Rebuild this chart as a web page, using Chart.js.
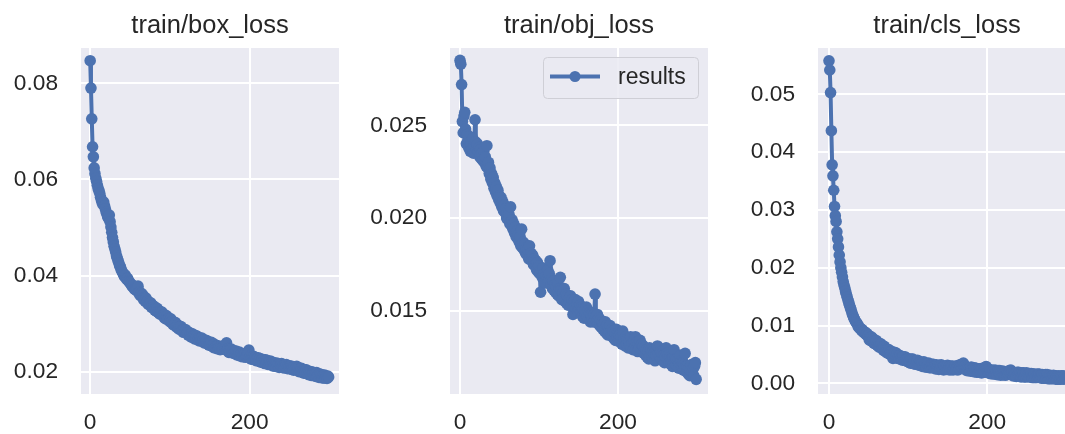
<!DOCTYPE html>
<html><head><meta charset="utf-8">
<script src="https://cdn.jsdelivr.net/npm/chart.js@4.4.1/dist/chart.umd.min.js"></script>
<style>
html,body{margin:0;padding:0;background:#ffffff;width:1065px;height:434px;overflow:hidden;position:relative}
canvas{position:absolute;top:0}
</style></head><body>
<canvas id="c1" width="350" height="434" style="left:0px;width:350px;height:434px"></canvas>
<canvas id="c2" width="370" height="434" style="left:350px;width:370px;height:434px"></canvas>
<canvas id="c3" width="370" height="434" style="left:720px;width:370px;height:434px"></canvas>
<script>
// ---------- data ----------
const EPOCHS = Array.from({length: 300}, (_, i) => i);
const SERIES_LABEL = 'results';
const TITLES = ['train/box_loss', 'train/obj_loss', 'train/cls_loss'];

const BOX_LOSS = [
0.0847,0.0790,0.0726,0.0668,0.0647,0.0624,0.0612,0.0603,0.0596,0.0588,
0.0581,0.0577,0.0571,0.0563,0.0557,0.0552,0.0548,0.0553,0.0545,0.0539,
0.0532,0.0528,0.0522,0.0519,0.0526,0.0512,0.0501,0.0490,0.0479,0.0470,
0.0461,0.0455,0.0449,0.0441,0.0436,0.0431,0.0426,0.0420,0.0418,0.0411,
0.0409,0.0405,0.0402,0.0398,0.0401,0.0395,0.0392,0.0394,0.0389,0.0387,
0.0385,0.0382,0.0380,0.0377,0.0379,0.0374,0.0371,0.0373,0.0369,0.0375,
0.0378,0.0363,0.0366,0.0358,0.0363,0.0357,0.0360,0.0350,0.0354,0.0347,
0.0353,0.0344,0.0347,0.0340,0.0345,0.0340,0.0343,0.0334,0.0338,0.0333,
0.0336,0.0328,0.0332,0.0326,0.0332,0.0324,0.0326,0.0320,0.0325,0.0320,
0.0324,0.0317,0.0318,0.0312,0.0318,0.0310,0.0316,0.0309,0.0308,0.0311,
0.0304,0.0310,0.0303,0.0305,0.0298,0.0303,0.0297,0.0302,0.0293,0.0296,
0.0297,0.0289,0.0294,0.0289,0.0294,0.0285,0.0288,0.0282,0.0288,0.0283,
0.0287,0.0280,0.0282,0.0276,0.0282,0.0275,0.0279,0.0272,0.0279,0.0273,
0.0275,0.0268,0.0275,0.0269,0.0274,0.0266,0.0270,0.0264,0.0270,0.0266,
0.0270,0.0263,0.0266,0.0260,0.0266,0.0261,0.0265,0.0258,0.0261,0.0255,
0.0261,0.0255,0.0261,0.0253,0.0256,0.0250,0.0257,0.0252,0.0254,0.0248,
0.0254,0.0248,0.0252,0.0246,0.0253,0.0247,0.0249,0.0253,0.0254,0.0249,
0.0251,0.0260,0.0244,0.0248,0.0240,0.0246,0.0240,0.0247,0.0240,0.0243,
0.0238,0.0243,0.0239,0.0243,0.0235,0.0240,0.0235,0.0241,0.0233,0.0237,
0.0238,0.0231,0.0236,0.0232,0.0237,0.0230,0.0233,0.0235,0.0240,0.0245,
0.0229,0.0233,0.0226,0.0231,0.0226,0.0232,0.0227,0.0230,0.0223,0.0228,
0.0223,0.0229,0.0223,0.0227,0.0220,0.0224,0.0226,0.0219,0.0224,0.0217,
0.0225,0.0218,0.0223,0.0215,0.0221,0.0215,0.0222,0.0216,0.0220,0.0212,
0.0219,0.0212,0.0217,0.0211,0.0218,0.0213,0.0216,0.0209,0.0216,0.0211,
0.0217,0.0209,0.0213,0.0208,0.0214,0.0209,0.0215,0.0207,0.0212,0.0206,
0.0212,0.0207,0.0212,0.0205,0.0209,0.0203,0.0210,0.0205,0.0208,0.0211,
0.0202,0.0208,0.0200,0.0206,0.0201,0.0207,0.0199,0.0203,0.0197,0.0204,
0.0198,0.0204,0.0196,0.0201,0.0194,0.0201,0.0196,0.0200,0.0192,0.0198,
0.0199,0.0192,0.0197,0.0190,0.0198,0.0191,0.0194,0.0188,0.0195,0.0189,
0.0194,0.0187,0.0192,0.0187,0.0193,0.0187,0.0190,0.0186,0.0191,0.0189
];

const OBJ_LOSS = [
0.0285,0.0283,0.0272,0.0252,0.0246,0.0255,0.0257,0.0248,0.0240,0.0245,
0.0242,0.0238,0.0244,0.0236,0.0240,0.0237,0.0243,0.0235,0.0239,0.0253,
0.0241,0.0237,0.0240,0.0236,0.0238,0.0233,0.0237,0.0232,0.0235,0.0231,
0.0236,0.0230,0.0233,0.0228,0.0239,0.0227,0.0230,0.0224,0.0227,0.0221,
0.0224,0.0219,0.0222,0.0216,0.0219,0.0214,0.0217,0.0212,0.0215,0.0210,
0.0212,0.0208,0.0211,0.0206,0.0209,0.0204,0.0207,0.0203,0.0205,0.0200,
0.0203,0.0199,0.0202,0.0197,0.0206,0.0196,0.0199,0.0194,0.0197,0.0192,
0.0195,0.0190,0.0193,0.0189,0.0191,0.0187,0.0190,0.0185,0.0194,0.0184,
0.0187,0.0183,0.0186,0.0181,0.0184,0.0180,0.0183,0.0178,0.0185,0.0179,
0.0181,0.0177,0.0180,0.0175,0.0178,0.0174,0.0177,0.0172,0.0176,0.0171,
0.0174,0.0170,0.0160,0.0172,0.0168,0.0173,0.0167,0.0170,0.0165,0.0169,
0.0167,0.0172,0.0166,0.0170,0.0177,0.0164,0.0167,0.0162,0.0166,0.0161,
0.0164,0.0160,0.0163,0.0159,0.0165,0.0158,0.0162,0.0168,0.0161,0.0156,
0.0160,0.0157,0.0162,0.0155,0.0159,0.0154,0.0158,0.0153,0.0157,0.0155,
0.0158,0.0153,0.0156,0.0148,0.0155,0.0152,0.0156,0.0151,0.0154,0.0150,
0.0155,0.0151,0.0153,0.0149,0.0152,0.0147,0.0151,0.0146,0.0150,0.0148,
0.0152,0.0147,0.0150,0.0146,0.0149,0.0144,0.0148,0.0145,0.0149,0.0144,
0.0148,0.0159,0.0147,0.0144,0.0148,0.0143,0.0146,0.0142,0.0145,0.0141,
0.0144,0.0140,0.0143,0.0139,0.0144,0.0138,0.0142,0.0137,0.0141,0.0139,
0.0142,0.0137,0.0140,0.0136,0.0139,0.0135,0.0138,0.0134,0.0140,0.0136,
0.0138,0.0134,0.0137,0.0133,0.0136,0.0132,0.0139,0.0133,0.0135,0.0131,
0.0136,0.0132,0.0135,0.0130,0.0134,0.0131,0.0136,0.0130,0.0133,0.0129,
0.0134,0.0130,0.0136,0.0129,0.0133,0.0128,0.0132,0.0130,0.0134,0.0128,
0.0132,0.0128,0.0131,0.0127,0.0130,0.0126,0.0129,0.0125,0.0128,0.0124,
0.0130,0.0126,0.0129,0.0125,0.0128,0.0124,0.0127,0.0123,0.0126,0.0129,
0.0131,0.0127,0.0130,0.0125,0.0128,0.0124,0.0127,0.0123,0.0126,0.0122,
0.0125,0.0130,0.0127,0.0123,0.0126,0.0122,0.0125,0.0121,0.0124,0.0120,
0.0125,0.0129,0.0124,0.0121,0.0124,0.0120,0.0123,0.0119,0.0122,0.0126,
0.0123,0.0119,0.0122,0.0118,0.0121,0.0127,0.0120,0.0117,0.0120,0.0116,
0.0119,0.0115,0.0118,0.0121,0.0117,0.0119,0.0115,0.0120,0.0122,0.0113
];

const CLS_LOSS = [
0.0558,0.0542,0.0503,0.0437,0.0378,0.0359,0.0334,0.0306,0.0290,0.0280,
0.0262,0.0250,0.0236,0.0222,0.0210,0.0200,0.0192,0.0184,0.0176,0.0170,
0.0165,0.0159,0.0154,0.0149,0.0144,0.0140,0.0135,0.0131,0.0127,0.0122,
0.0118,0.0115,0.0111,0.0109,0.0106,0.0104,0.0103,0.0098,0.0098,0.0095,
0.0094,0.0092,0.0093,0.0089,0.0090,0.0087,0.0088,0.0084,0.0086,0.0082,
0.0083,0.0075,0.0080,0.0074,0.0080,0.0073,0.0077,0.0069,0.0074,0.0068,
0.0074,0.0066,0.0070,0.0063,0.0069,0.0063,0.0068,0.0060,0.0063,0.0057,
0.0064,0.0056,0.0060,0.0053,0.0059,0.0054,0.0058,0.0050,0.0055,0.0050,
0.0055,0.0043,0.0052,0.0047,0.0053,0.0046,0.0051,0.0043,0.0048,0.0043,
0.0048,0.0042,0.0046,0.0040,0.0046,0.0041,0.0046,0.0039,0.0042,0.0038,
0.0043,0.0037,0.0040,0.0035,0.0042,0.0036,0.0042,0.0034,0.0039,0.0033,
0.0039,0.0034,0.0040,0.0032,0.0036,0.0031,0.0037,0.0033,0.0035,0.0029,
0.0037,0.0029,0.0034,0.0028,0.0034,0.0030,0.0035,0.0027,0.0031,0.0027,
0.0033,0.0027,0.0033,0.0027,0.0031,0.0025,0.0032,0.0027,0.0030,0.0024,
0.0031,0.0026,0.0032,0.0025,0.0028,0.0023,0.0030,0.0025,0.0029,0.0024,
0.0031,0.0024,0.0029,0.0023,0.0030,0.0026,0.0030,0.0023,0.0028,0.0025,
0.0030,0.0024,0.0029,0.0023,0.0031,0.0025,0.0032,0.0028,0.0033,0.0027,
0.0035,0.0028,0.0030,0.0023,0.0028,0.0022,0.0027,0.0023,0.0027,0.0021,
0.0028,0.0022,0.0026,0.0020,0.0027,0.0023,0.0026,0.0019,0.0025,0.0020,
0.0025,0.0019,0.0024,0.0018,0.0026,0.0020,0.0023,0.0019,0.0028,0.0029,
0.0024,0.0019,0.0024,0.0017,0.0023,0.0019,0.0023,0.0016,0.0022,0.0017,
0.0023,0.0016,0.0021,0.0015,0.0022,0.0018,0.0022,0.0014,0.0020,0.0015,
0.0021,0.0015,0.0020,0.0014,0.0020,0.0015,0.0020,0.0016,0.0022,0.0019,
0.0023,0.0018,0.0020,0.0013,0.0018,0.0013,0.0018,0.0012,0.0019,0.0014,
0.0019,0.0013,0.0017,0.0011,0.0018,0.0013,0.0018,0.0011,0.0017,0.0011,
0.0018,0.0012,0.0016,0.0011,0.0017,0.0012,0.0017,0.0010,0.0016,0.0010,
0.0016,0.0010,0.0015,0.0010,0.0016,0.0011,0.0016,0.0010,0.0014,0.0009,
0.0015,0.0009,0.0014,0.0009,0.0015,0.0010,0.0015,0.0008,0.0013,0.0008,
0.0014,0.0008,0.0013,0.0008,0.0014,0.0009,0.0013,0.0007,0.0012,0.0007,
0.0013,0.0007,0.0012,0.0007,0.0013,0.0008,0.0013,0.0007,0.0012,0.0008
];

const X_TICKS = [0, 200];
const X_TICK_LABELS = ['0', '200'];
const BOX_Y_TICKS = [0.02, 0.04, 0.06, 0.08];
const BOX_Y_LABELS = ['0.02', '0.04', '0.06', '0.08'];
const OBJ_Y_TICKS = [0.015, 0.020, 0.025];
const OBJ_Y_LABELS = ['0.015', '0.020', '0.025'];
const CLS_Y_TICKS = [0.00, 0.01, 0.02, 0.03, 0.04, 0.05];
const CLS_Y_LABELS = ['0.00', '0.01', '0.02', '0.03', '0.04', '0.05'];

// ---------- style ----------
const FONT = '"Liberation Sans", Arial, Helvetica, sans-serif';
const TEXT = '#262626';
const BLUE = '#4C72B0';
const BG = '#EAEAF2';
Chart.defaults.font.family = FONT;
Chart.defaults.color = TEXT;

const bgPlugin = {
  id: 'axesBg',
  beforeDraw(chart) {
    const {ctx, chartArea: a} = chart;
    ctx.save();
    ctx.fillStyle = BG;
    ctx.fillRect(a.left, a.top, a.right - a.left, a.bottom - a.top);
    ctx.restore();
  }
};

const titlePlugin = {
  id: 'axTitle',
  afterDraw(chart, args, opts) {
    const {ctx, chartArea: a} = chart;
    ctx.save();
    ctx.font = '25.5px ' + FONT;
    ctx.fillStyle = TEXT;
    ctx.textAlign = 'center';
    ctx.textBaseline = 'alphabetic';
    ctx.fillText(opts.text, (a.left + a.right) / 2, 33);
    ctx.restore();
  }
};

const legendPlugin = {
  id: 'innerLegend',
  afterDraw(chart, args, opts) {
    if (!opts.show) return;
    const {ctx, chartArea: a} = chart;
    const w = 155, h = 41;
    const x = a.right - 10 - w, y = a.top + 9;
    ctx.save();
    ctx.beginPath();
    ctx.roundRect(x + 0.5, y + 0.5, w, h, 4);
    ctx.fillStyle = 'rgba(234,234,242,0.85)';
    ctx.fill();
    ctx.strokeStyle = '#cfcfd6';
    ctx.lineWidth = 1;
    ctx.stroke();
    const ds = chart.data.datasets[0];
    const ly = y + 19.5;
    ctx.beginPath();
    ctx.moveTo(x + 7, ly);
    ctx.lineTo(x + 57, ly);
    ctx.strokeStyle = ds.borderColor;
    ctx.lineWidth = 4;
    ctx.stroke();
    ctx.beginPath();
    ctx.arc(x + 32, ly, 5.5, 0, Math.PI * 2);
    ctx.fillStyle = ds.backgroundColor;
    ctx.fill();
    ctx.font = '23px ' + FONT;
    ctx.fillStyle = TEXT;
    ctx.textAlign = 'left';
    ctx.textBaseline = 'alphabetic';
    ctx.fillText(ds.label, x + 75, y + 27);
    ctx.restore();
  }
};

function makeChart(id, values, title, yTicks, yLabels, o) {
  const pts = values.map((v, i) => ({x: EPOCHS[i], y: v}));
  return new Chart(document.getElementById(id), {
    type: 'line',
    data: {
      datasets: [{
        label: SERIES_LABEL,
        data: pts,
        borderColor: BLUE,
        backgroundColor: BLUE,
        borderWidth: 4,
        borderJoinStyle: 'round',
        borderCapStyle: 'round',
        pointRadius: 5.8,
        pointBorderWidth: 0,
        pointHoverRadius: 5.8,
        tension: 0,
        clip: false
      }]
    },
    options: {
      responsive: false,
      animation: false,
      devicePixelRatio: 1,
      events: [],
      layout: {padding: {left: 0, top: 48, right: o.padRight, bottom: 0}},
      plugins: {
        legend: {display: false},
        tooltip: {enabled: false},
        title: {display: false},
        axTitle: {text: title},
        innerLegend: {show: !!o.legend}
      },
      scales: {
        x: {
          type: 'linear',
          min: o.xMin, max: o.xMax,
          afterFit(s) { s.height = 40; },
          afterBuildTicks(s) { s.ticks = X_TICKS.map(v => ({value: v})); },
          grid: {color: '#ffffff', lineWidth: 2, drawTicks: false},
          border: {display: false},
          ticks: {
            font: {size: 22.7},
            color: TEXT,
            padding: 15,
            maxRotation: 0,
            callback: (v, i) => X_TICK_LABELS[i]
          }
        },
        y: {
          type: 'linear',
          min: o.yMin, max: o.yMax,
          afterFit(s) { s.width = o.yWidth; },
          afterBuildTicks(s) { s.ticks = yTicks.map(v => ({value: v})); },
          grid: {color: '#ffffff', lineWidth: 2, drawTicks: false},
          border: {display: false},
          ticks: {
            font: {size: 22.7},
            color: TEXT,
            padding: 23,
            callback: (v, i) => yLabels[i]
          }
        }
      }
    },
    plugins: [bgPlugin, titlePlugin, legendPlugin]
  });
}

makeChart('c1', BOX_LOSS, TITLES[0], BOX_Y_TICKS, BOX_Y_LABELS,
  {xMin: -11.5, xMax: 312, yMin: 0.01536, yMax: 0.08734, yWidth: 81, padRight: 11});
makeChart('c2', OBJ_LOSS, TITLES[1], OBJ_Y_TICKS, OBJ_Y_LABELS,
  {xMin: -12.7, xMax: 314, yMin: 0.01051, yMax: 0.02917, yWidth: 100, padRight: 12, legend: true});
makeChart('c3', CLS_LOSS, TITLES[2], CLS_Y_TICKS, CLS_Y_LABELS,
  {xMin: -13.9, xMax: 312.5, yMin: -0.00185, yMax: 0.05801, yWidth: 98, padRight: 14});
</script>
</body></html>
